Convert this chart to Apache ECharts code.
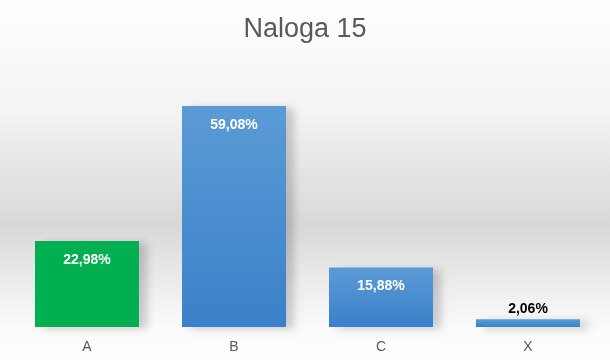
<!DOCTYPE html>
<html><head><meta charset="utf-8">
<script src="https://cdn.jsdelivr.net/npm/echarts@6/dist/echarts.min.js"></script>
<style>html,body{margin:0;padding:0;background:#fff}#c{width:610px;height:362px}</style>
</head><body><div id="c"></div>
<script>
const categories = ['A', 'B', 'C', 'X'];
const values = [22.98, 59.08, 15.88, 2.06];
const titleText = 'Naloga 15';

const chart = echarts.init(document.getElementById('c'), null, {renderer: 'canvas'});
const blue = new echarts.graphic.LinearGradient(0, 0, 0, 1, [
  {offset: 0, color: '#5b9bd5'}, {offset: 1, color: '#3a81ca'}
]);
const data = values.map((v, i) => {
  const isA = i === 0;
  const small = v < 5;
  return {
    value: v,
    itemStyle: {color: isA ? '#00b050' : blue},
    label: small ? {position: 'top', distance: 3, color: '#000'} : {position: 'insideTop', distance: 12, color: '#fff'}
  };
});
chart.setOption({
  backgroundColor: new echarts.graphic.LinearGradient(0, 0, 0, 1, [
    {offset: 0, color: '#ffffff'},
    {offset: 0.3, color: '#f4f4f4'},
    {offset: 0.62, color: '#d8d8d8'},
    {offset: 0.9, color: '#fafafa'},
    {offset: 1, color: '#ffffff'}
  ]),
  title: {
    text: titleText, left: 'center', top: 11,
    textStyle: {fontFamily: 'Liberation Sans', fontSize: 27, fontWeight: 'normal', color: '#595959'}
  },
  grid: {left: 13.5, right: 8.5, top: 102.6, bottom: 35},
  xAxis: {
    type: 'category', data: categories,
    axisLine: {show: false}, axisTick: {show: false},
    axisLabel: {color: '#595959', fontSize: 14, fontFamily: 'Liberation Sans', margin: 13}
  },
  yAxis: {type: 'value', min: 0, max: 60, show: false, splitLine: {show: false}},
  series: [{
    type: 'bar', data: data, barWidth: 104,
    itemStyle: {shadowColor: 'rgba(0,0,0,0.18)', shadowBlur: 8, shadowOffsetX: 8, shadowOffsetY: 2},
    label: {
      show: true, fontFamily: 'Liberation Sans', fontSize: 14, fontWeight: 'bold',
      formatter: p => p.value.toFixed(2).replace('.', ',') + '%'
    }
  }]
});
</script></body></html>
